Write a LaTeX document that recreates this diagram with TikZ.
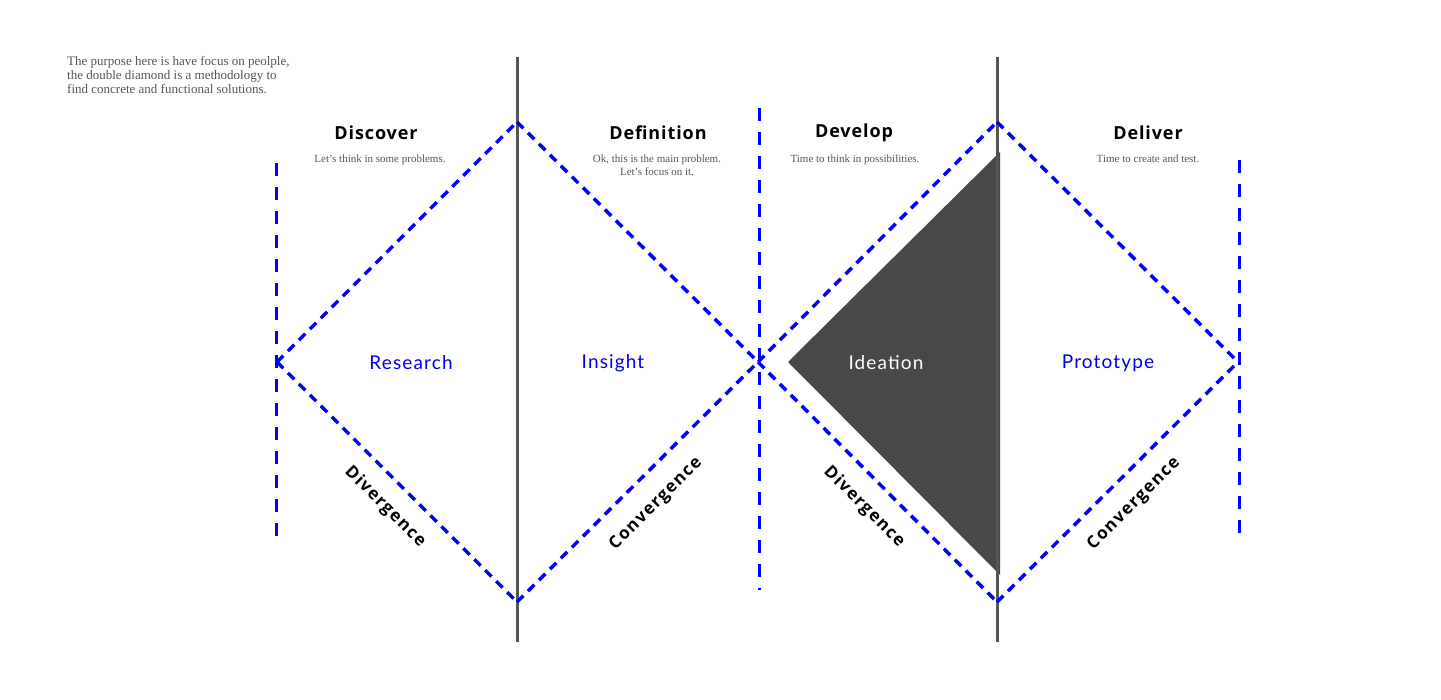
\documentclass[tikz,border=0pt]{standalone}
\usepackage{fontspec}
\setmainfont{Liberation Serif}
\newfontfamily\headfont[LetterSpace=5]{Open Sans}
\newfontfamily\sidefont[LetterSpace=8]{Open Sans}
\newfontfamily\labfont[LetterSpace=6]{Lato}
\definecolor{dgray}{HTML}{555555}
\definecolor{tgray}{HTML}{484848}
\definecolor{txtgray}{HTML}{555555}
\definecolor{dblue}{HTML}{0000F0}
\begin{document}
\begin{tikzpicture}[x=1pt,y=-1pt,
  axisline/.style={draw=dgray,line width=3pt},
  diag/.style={draw=blue,line width=3.5pt,dash pattern=on 9pt off 6.5pt},
  vdash/.style={draw=blue,line width=3pt,dash pattern=on 13pt off 11pt},
  heading/.style={font=\headfont\bfseries\fontsize{18}{20}\selectfont,text=black,inner sep=0pt},
  note/.style={font=\fontsize{11}{12.5}\selectfont,text=txtgray,inner sep=0pt,align=center},
  phase/.style={font=\labfont\fontsize{19}{22}\selectfont,text=dblue,inner sep=0pt},
  side/.style={font=\sidefont\bfseries\fontsize{17}{20}\selectfont,text=black,inner sep=0pt}]
\useasboundingbox (0,0) rectangle (1441,700);
% coordinates
\coordinate (d1l) at (277,362);
\coordinate (d1t) at (517,122);
\coordinate (d1b) at (517,602);
\coordinate (d1r) at (758,362);
\coordinate (d2t) at (997,122);
\coordinate (d2b) at (997,602);
\coordinate (d2r) at (1238,362);
\coordinate (g1a) at (517,57);
\coordinate (g1b) at (517,642);
\coordinate (g2a) at (997,57);
\coordinate (g2b) at (997,642);
\coordinate (v1a) at (276,163);
\coordinate (v1b) at (276,545);
\coordinate (v2a) at (759,108);
\coordinate (v2b) at (759,590);
\coordinate (v3a) at (1239,160);
\coordinate (v3b) at (1239,540);
\coordinate (ta) at (788,362);
\coordinate (tt) at (1000,152);
\coordinate (tb) at (1000,575);
% ideation triangle
\fill[tgray] (ta) -- (tt) -- (tb) -- cycle;
% gray axis lines
\draw[axisline] (g1a) -- (g1b);
\draw[axisline] (g2a) -- (g2b);
% blue dashed verticals
\draw[vdash] (v1a) -- (v1b);
\draw[vdash] (v2a) -- (v2b);
\draw[vdash] (v3a) -- (v3b);
% diamonds
\draw[diag] (d1l) -- (d1t);
\draw[diag] (d1t) -- (d1r);
\draw[diag] (d1l) -- (d1b);
\draw[diag] (d1b) -- (d1r);
\draw[diag] (d1r) -- (d2t);
\draw[diag] (d2t) -- (d2r);
\draw[diag] (d1r) -- (d2b);
\draw[diag] (d2b) -- (d2r);
% intro text
\node[anchor=north west,inner sep=0pt,align=left,text=txtgray,
  font=\fontsize{13}{14}\selectfont] (intro) at (67,56)
  {The purpose here is have focus on peolple,\\
   the double diamond is a methodology to\\
   find concrete and functional solutions.};
% headings
\node[heading] (h1) at (376,133) {Discover};
\node[heading] (h2) at (658,133) {Definition};
\node[heading] (h3) at (854,133) {Develop};
\node[heading] (h4) at (1148,133) {Deliver};
% notes
\node[note,anchor=north] (n1) at (380,155) {Let’s think in some problems.};
\node[note,anchor=north] (n2) at (657,155) {Ok, this is the main problem.\\Let’s focus on it.};
\node[note,anchor=north] (n3) at (855,155) {Time to think in possibilities.};
\node[note,anchor=north] (n4) at (1148,155) {Time to create and test.};
% phases
\node[phase] (p1) at (411,363) {Research};
\node[phase] (p2) at (613,363) {Insight};
\node[phase,text=white] (p3) at (886,363) {Ideation};
\node[phase] (p4) at (1108,363) {Prototype};
% side labels
\node[side,rotate=-45] (s1) at (385,507) {Divergence};
\node[side,rotate=45] (s2) at (656,504) {Convergence};
\node[side,rotate=-45] (s3) at (864,507) {Divergence};
\node[side,rotate=45] (s4) at (1134,504) {Convergence};
\end{tikzpicture}
\end{document}
